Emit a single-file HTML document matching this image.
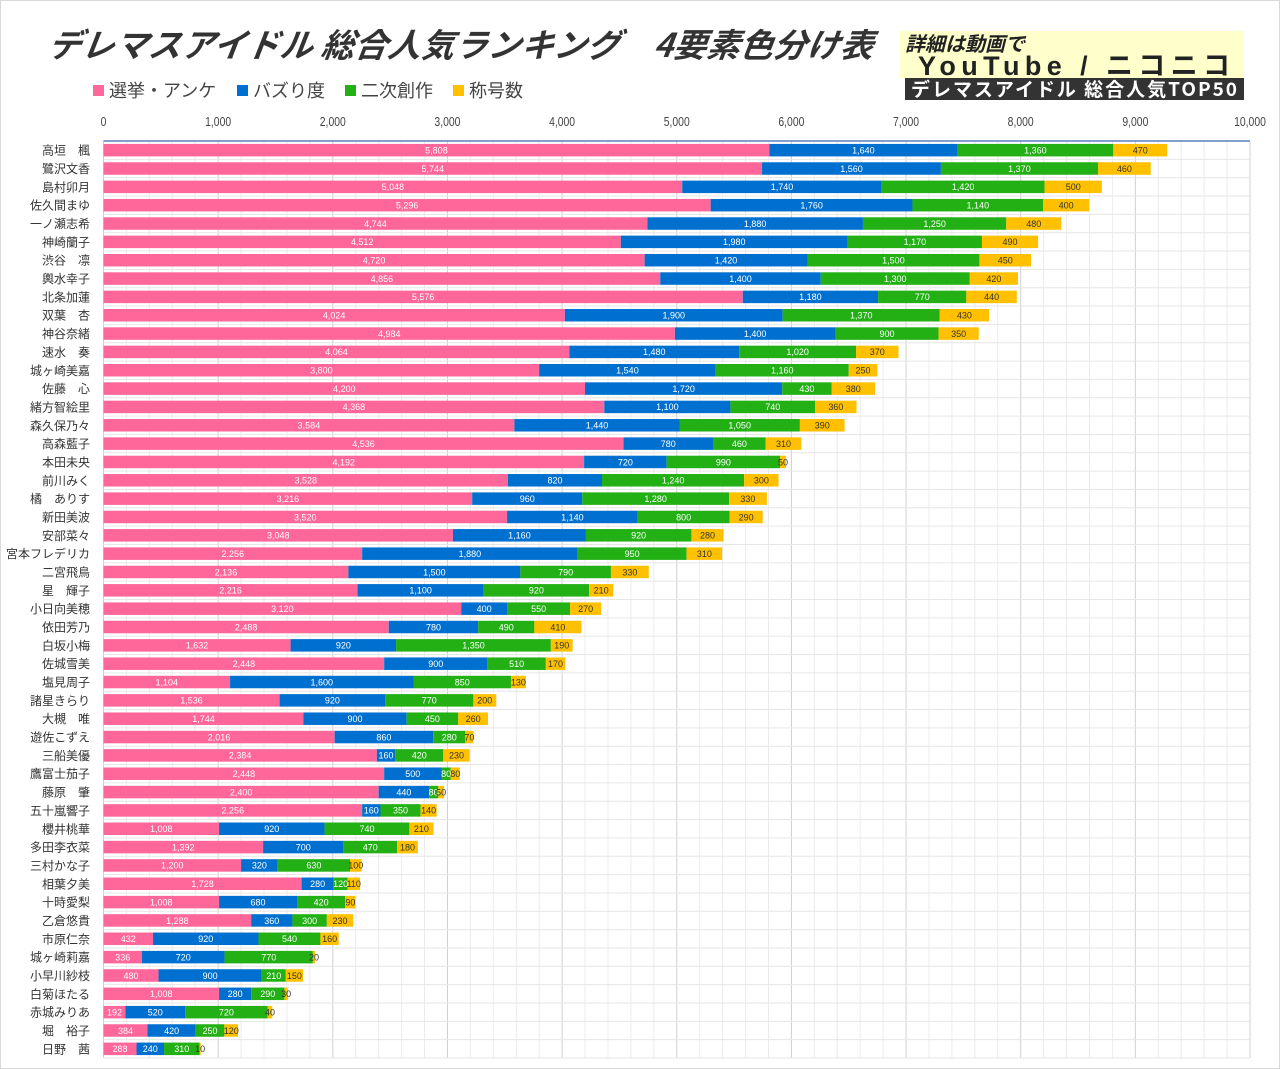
<!DOCTYPE html>
<html><head><meta charset="utf-8"><style>
body{margin:0;background:#fff;}
#wrap{position:relative;width:1280px;height:1069px;overflow:hidden;background:#fff;font-family:"Liberation Sans","Noto Sans CJK JP",sans-serif;}
</style></head><body>
<div id="wrap">
<svg id="chart" width="1280" height="1069" xmlns="http://www.w3.org/2000/svg">
<rect x="0.5" y="0.5" width="1279" height="1068" fill="#fff" stroke="#d9d9d9"/>
<text x="48" y="57" font-size="33" font-weight="bold" font-style="italic" fill="#333" font-family="'Noto Sans CJK JP',sans-serif" textLength="825" transform="skewX(-8) translate(7,0)">デレマスアイドル 総合人気ランキング　4要素色分け表</text>
<rect x="900" y="31" width="344" height="47" fill="#ffffcc"/>
<text x="905" y="51" font-size="20" font-weight="bold" font-style="italic" fill="#222" font-family="'Noto Sans CJK JP',sans-serif">詳細は動画で</text>
<text x="918" y="75" font-size="27" font-weight="bold" fill="#222" font-family="'Liberation Sans','Noto Sans CJK JP',sans-serif" textLength="312">YouTube / ニコニコ</text>
<rect x="905" y="78" width="339" height="22" fill="#333"/>
<text x="911" y="96" font-size="19" font-weight="bold" fill="#fff" font-family="'Noto Sans CJK JP',sans-serif" textLength="326">デレマスアイドル 総合人気TOP50</text>
<g id="legend"></g>
<g id="grid"></g>
<g id="axis"></g>
<g id="bars"></g>
<g id="names"></g>
</svg>
</div>
<script>
const names=["高垣　楓","鷺沢文香","島村卯月","佐久間まゆ","一ノ瀬志希","神崎蘭子","渋谷　凛","輿水幸子","北条加蓮","双葉　杏","神谷奈緒","速水　奏","城ヶ崎美嘉","佐藤　心","緒方智絵里","森久保乃々","高森藍子","本田未央","前川みく","橘　ありす","新田美波","安部菜々","宮本フレデリカ","二宮飛鳥","星　輝子","小日向美穂","依田芳乃","白坂小梅","佐城雪美","塩見周子","諸星きらり","大槻　唯","遊佐こずえ","三船美優","鷹富士茄子","藤原　肇","五十嵐響子","櫻井桃華","多田李衣菜","三村かな子","相葉夕美","十時愛梨","乙倉悠貴","市原仁奈","城ヶ崎莉嘉","小早川紗枝","白菊ほたる","赤城みりあ","堀　裕子","日野　茜"];
const election=[5808,5744,5048,5296,4744,4512,4720,4856,5576,4024,4984,4064,3800,4200,4368,3584,4536,4192,3528,3216,3520,3048,2256,2136,2216,3120,2488,1632,2448,1104,1536,1744,2016,2384,2448,2400,2256,1008,1392,1200,1728,1008,1288,432,336,480,1008,192,384,288];
const buzz=[1640,1560,1740,1760,1880,1980,1420,1400,1180,1900,1400,1480,1540,1720,1100,1440,780,720,820,960,1140,1160,1880,1500,1100,400,780,920,900,1600,920,900,860,160,500,440,160,920,700,320,280,680,360,920,720,900,280,520,420,240];
const secondary=[1360,1370,1420,1140,1250,1170,1500,1300,770,1370,900,1020,1160,430,740,1050,460,990,1240,1280,800,920,950,790,920,550,490,1350,510,850,770,450,280,420,80,80,350,740,470,630,120,420,300,540,770,210,290,720,250,310];
const titles=[470,460,500,400,480,490,450,420,440,430,350,370,250,380,360,390,310,50,300,330,290,280,310,330,210,270,410,190,170,130,200,260,70,230,80,50,140,210,180,100,110,90,230,160,20,150,30,40,120,10];
const ticks=[0,1000,2000,3000,4000,5000,6000,7000,8000,9000,10000];
const seriesNames=["選挙・アンケ","バズり度","二次創作","称号数"];
const colors=["#ff6699","#0070d0","#22b014","#ffc000"];
const NS="http://www.w3.org/2000/svg";
const X0=103.5,X1=1250,Y0=141,ROWH=18.34,BH=12.5,MAXV=10000;
const xs=v=>X0+(X1-X0)*v/MAXV;
const ys=i=>Y0+ROWH*i+ROWH/2;
function mk(tag,attrs,parent){const e=document.createElementNS(NS,tag);for(const k in attrs)e.setAttribute(k,attrs[k]);parent.appendChild(e);return e;}
const grid=document.getElementById('grid'),axis=document.getElementById('axis'),bars=document.getElementById('bars'),nm=document.getElementById('names'),lg=document.getElementById('legend');
const yEnd=Y0+ROWH*names.length;
for(let v=0;v<=MAXV;v+=200){const l=mk('line',{x1:xs(v),x2:xs(v),y1:Y0,y2:yEnd,stroke:v%1000===0?'#d0d0d0':'#ececec','stroke-width':1},grid);

}
for(let i=0;i<=names.length;i++){const l=mk('line',{x1:X0,x2:X1,y1:Y0+ROWH*i,y2:Y0+ROWH*i,stroke:'#e6e6e6','stroke-width':1},grid);

}
const ax=mk('line',{x1:X0,x2:X1,y1:Y0,y2:Y0,stroke:'#5b7fbf','stroke-width':1.5},axis);


ticks.forEach(t=>{const tx=mk('text',{x:xs(t),y:126,'font-size':13,'text-anchor':'middle',fill:'#444','font-family':"'Liberation Sans',sans-serif",transform:`translate(${xs(t)},0) scale(0.8,1) translate(${-xs(t)},0)`},axis);tx.textContent=t.toLocaleString('en-US');

});
let lx=93;
seriesNames.forEach((s,i)=>{const r=mk('rect',{x:lx,y:85,width:11,height:11,fill:colors[i]},lg);


const t=mk('text',{x:lx+16,y:97,'font-size':18,fill:'#444','font-family':"'Noto Sans CJK JP',sans-serif"},lg);t.textContent=s;


lx+=16+s.length*18+20;});
const series=[election,buzz,secondary,titles];
names.forEach((n,i)=>{
 const t=mk('text',{x:90,y:ys(i)+4.5,'font-size':12,'text-anchor':'end',fill:'#333','font-family':"'Noto Sans CJK JP',sans-serif"},nm);t.textContent=n;
 
 
 let acc=0;
 series.forEach((arr,s)=>{const v=arr[i];const x1=xs(acc),x2=xs(acc+v);
  const r=mk('rect',{x:x1,y:ys(i)-BH/2,width:x2-x1,height:BH,fill:colors[s]},bars);
  
  
  const tt=mk('text',{x:(x1+x2)/2,y:ys(i)+3.3,'font-size':9,'text-anchor':'middle',fill:s===3?'#333':'#fff','font-family':"'Liberation Sans',sans-serif"},bars);tt.textContent=v.toLocaleString('en-US');
  
  
  acc+=v;});
});
</script>
</body></html>
